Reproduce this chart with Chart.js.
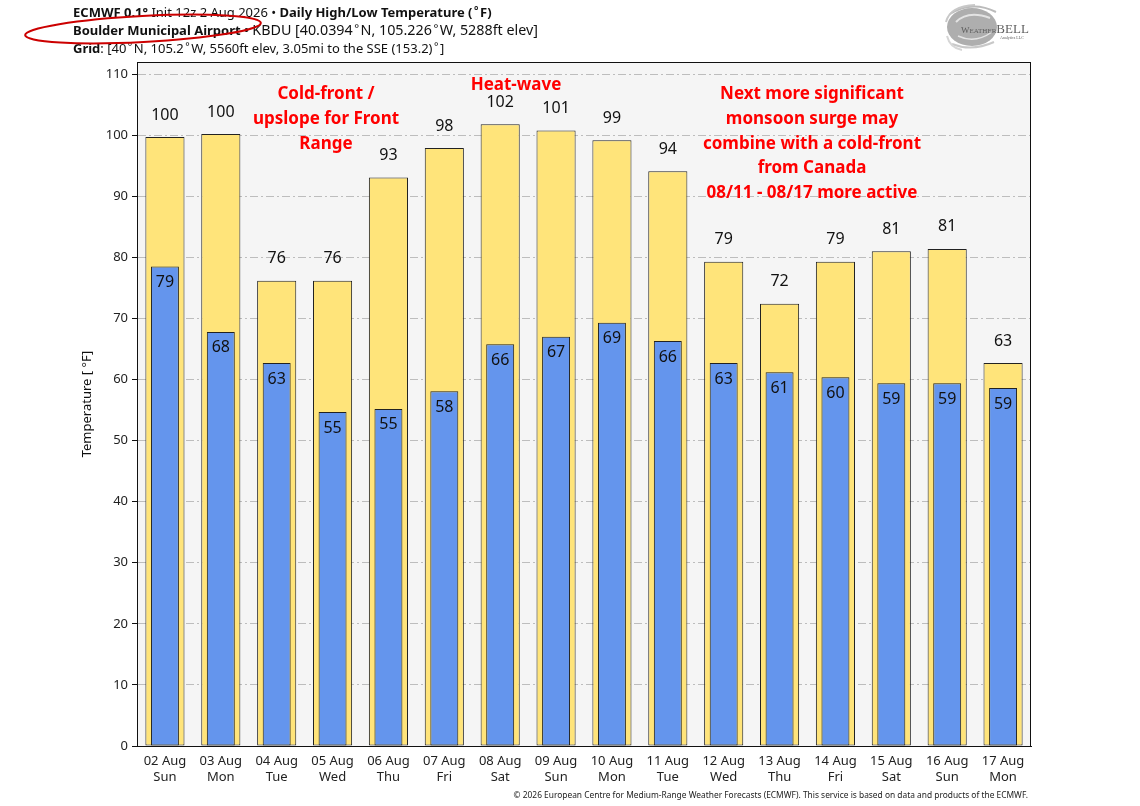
<!DOCTYPE html>
<html>
<head>
<meta charset="utf-8">
<title>Boulder Daily High/Low Temperature</title>
<script src="https://cdn.jsdelivr.net/npm/chart.js@4/dist/chart.umd.min.js"></script>
<style>
  html, body { margin: 0; padding: 0; background: #fff; }
  #wrap { position: relative; width: 1140px; height: 806px; font-family: 'Noto Sans', sans-serif; color: #111; }
  #chart { position: absolute; left: 0; top: 0; }
  .header { position: absolute; left: 73px; top: 3px; font-size: 13px; line-height: 18px; white-space: nowrap; }
  .header div { height: 18px; overflow: visible; }
  .header .big { font-size: 14.3px; line-height: 14px; }
  .deg { display: inline-block; font-size: 0.8em; line-height: 1; vertical-align: 0.25em; margin: 0 1.5px; }
  .note { position: absolute; color: #f00; font-weight: bold; font-size: 17px; line-height: 24.8px; text-align: center; white-space: nowrap; transform: translateX(-50%); }
  .footer { position: absolute; right: 112px; top: 789px; font-size: 8.4px; color: #222; white-space: nowrap; }
  svg { position: absolute; left: 0; top: 0; pointer-events: none; }
</style>
</head>
<body>
<div id="wrap">
  <canvas id="chart" width="1140" height="806"></canvas>
  <div class="header">
    <div><b>ECMWF 0.1°</b> Init 12z 2 Aug 2026 • <b>Daily High/Low Temperature (<span class="deg">°</span>F)</b></div>
    <div><b>Boulder Municipal Airport •</b> <span class="big">KBDU [40.0394<span class="deg">°</span>N, 105.226<span class="deg">°</span>W, 5288ft elev]</span></div>
    <div><b>Grid</b>: [40<span class="deg">°</span>N, 105.2<span class="deg">°</span>W, 5560ft elev, 3.05mi to the SSE (153.2)<span class="deg">°</span>]</div>
  </div>
  <div class="note" style="left:326px; top:81px;">Cold-front /<br>upslope for Front<br>Range</div>
  <div class="note" style="left:516px; top:72px;">Heat-wave</div>
  <div class="note" style="left:812px; top:81px;">Next more significant<br>monsoon surge may<br>combine with a cold-front<br>from Canada<br>08/11 - 08/17 more active</div>
  <div class="footer">© 2026 European Centre for Medium-Range Weather Forecasts (ECMWF). This service is based on data and products of the ECMWF.</div>
  <svg width="1140" height="806">
    <ellipse cx="143" cy="29" rx="118" ry="13" transform="rotate(-3 143 29)" fill="none" stroke="#c00" stroke-width="2"/>
    <g opacity="0.8">
      <ellipse cx="972" cy="27" rx="25" ry="19" fill="#9a9a9a"/>
      <path d="M956 22 Q968 10 990 18" fill="none" stroke="#ddd" stroke-width="2"/>
      <path d="M958 36 Q975 44 992 32" fill="none" stroke="#ddd" stroke-width="1.5"/>
      <path d="M950 14 Q972 0 996 12" fill="none" stroke="#aaa" stroke-width="2"/>
      <path d="M946 22 Q950 6 975 5" fill="none" stroke="#bbb" stroke-width="2"/>
      <path d="M952 44 Q972 52 994 42" fill="none" stroke="#bbb" stroke-width="2"/>
      <path d="M947 36 Q950 48 962 50" fill="none" stroke="#ccc" stroke-width="2"/>
      <text x="961" y="33" font-family="Liberation Serif, serif" font-size="9" fill="#333">W<tspan font-size="7">EATHER</tspan><tspan font-size="13">BELL</tspan></text>
      <text x="1000" y="39" font-family="Liberation Serif, serif" font-size="4" fill="#333">Analytics LLC</text>
    </g>
  </svg>
</div>
<script>
const DAYS = ['02 Aug', '03 Aug', '04 Aug', '05 Aug', '06 Aug', '07 Aug', '08 Aug', '09 Aug',
  '10 Aug', '11 Aug', '12 Aug', '13 Aug', '14 Aug', '15 Aug', '16 Aug', '17 Aug']
const WEEKDAYS = ['Sun', 'Mon', 'Tue', 'Wed', 'Thu', 'Fri', 'Sat', 'Sun',
  'Mon', 'Tue', 'Wed', 'Thu', 'Fri', 'Sat', 'Sun', 'Mon']
const HIGHS = [99.7, 100.2, 76.2, 76.2, 93.1, 97.9, 101.8, 100.8, 99.2, 94.1, 79.3, 72.4, 79.3, 81.0, 81.4, 62.7]
const LOWS = [78.5, 67.8, 62.7, 54.7, 55.2, 58.1, 65.8, 67.0, 69.3, 66.3, 62.7, 61.2, 60.4, 59.4, 59.4, 58.6]
const Y_TICKS = [0, 10, 20, 30, 40, 50, 60, 70, 80, 90, 100, 110]

const FONT = "'Noto Sans', sans-serif"

// plot background and the frame on top/right
const framePlugin = {
  id: 'frame',
  beforeDraw: (chart) => {
    const { ctx, chartArea: a } = chart
    ctx.save()
    ctx.fillStyle = '#f5f5f5'
    ctx.fillRect(a.left, a.top, a.right - a.left, a.bottom - a.top)
    ctx.restore()
  },
  afterDraw: (chart) => {
    const { ctx, chartArea: a } = chart
    ctx.save()
    ctx.strokeStyle = '#111'
    ctx.lineWidth = 1
    ctx.strokeRect(a.left + 0.5, a.top + 0.5, a.right - a.left - 1, a.bottom - a.top)
    // y axis title
    ctx.translate(87, 404)
    ctx.rotate(-Math.PI / 2)
    ctx.fillStyle = '#111'
    ctx.font = '13px ' + FONT
    ctx.textAlign = 'center'
    ctx.textBaseline = 'middle'
    ctx.fillText('Temperature [ °F]', 0, 0)
    ctx.restore()
  }
}

const valueLabelPlugin = {
  id: 'valueLabels',
  afterDatasetsDraw: (chart) => {
    const { ctx } = chart
    ctx.save()
    ctx.font = '16px ' + FONT
    ctx.fillStyle = '#111'
    ctx.textAlign = 'center'
    ctx.textBaseline = 'middle'
    chart.data.datasets.forEach((ds, i) => {
      chart.getDatasetMeta(i).data.forEach((bar, j) => {
        const text = String(Math.round(ds.data[j]))
        const y = ds.label === 'High' ? bar.y - 22 : bar.y + 16
        ctx.fillText(text, bar.x, y)
      })
    })
    ctx.restore()
  }
}

const chart = new Chart(document.getElementById('chart'), {
  type: 'bar',
  data: {
    labels: DAYS.map((d, i) => [d, WEEKDAYS[i]]),
    datasets: [
      {
        label: 'High',
        data: HIGHS,
        backgroundColor: '#ffe47a',
        borderColor: '#222',
        borderWidth: 1,
        borderSkipped: false,
        barPercentage: 0.7,
        categoryPercentage: 1,
        grouped: false,
        order: 2
      },
      {
        label: 'Low',
        data: LOWS,
        backgroundColor: '#6495ed',
        borderColor: '#222',
        borderWidth: 1,
        borderSkipped: false,
        barPercentage: 0.5,
        categoryPercentage: 1,
        grouped: false,
        order: 1
      }
    ]
  },
  options: {
    responsive: false,
    animation: false,
    devicePixelRatio: 1,
    layout: { padding: { left: 0, right: 109, top: 62, bottom: 0 } },
    plugins: {
      legend: { display: false },
      tooltip: { enabled: false }
    },
    scales: {
      x: {
        grid: { display: false },
        border: { color: '#111' },
        ticks: {
          color: '#222',
          font: { family: FONT, size: 13, lineHeight: 1.25 },
          padding: -1,
          maxRotation: 0,
          autoSkip: false
        },
        afterFit: (scale) => { scale.height = 60 }
      },
      y: {
        min: 0,
        max: 112,
        afterBuildTicks: (scale) => {
          scale.ticks = Y_TICKS.map((v) => ({ value: v }))
        },
        grid: {
          color: '#bdbdbd',
          tickColor: '#111',
          tickBorderDash: [],
          tickLength: 5
        },
        border: { color: '#111', dash: [8, 3, 2, 3] },
        ticks: {
          color: '#222',
          font: { family: FONT, size: 13 },
          padding: 4
        },
        afterFit: (scale) => { scale.width = 137 }
      }
    }
  },
  plugins: [framePlugin, valueLabelPlugin]
})
</script>
</body>
</html>
